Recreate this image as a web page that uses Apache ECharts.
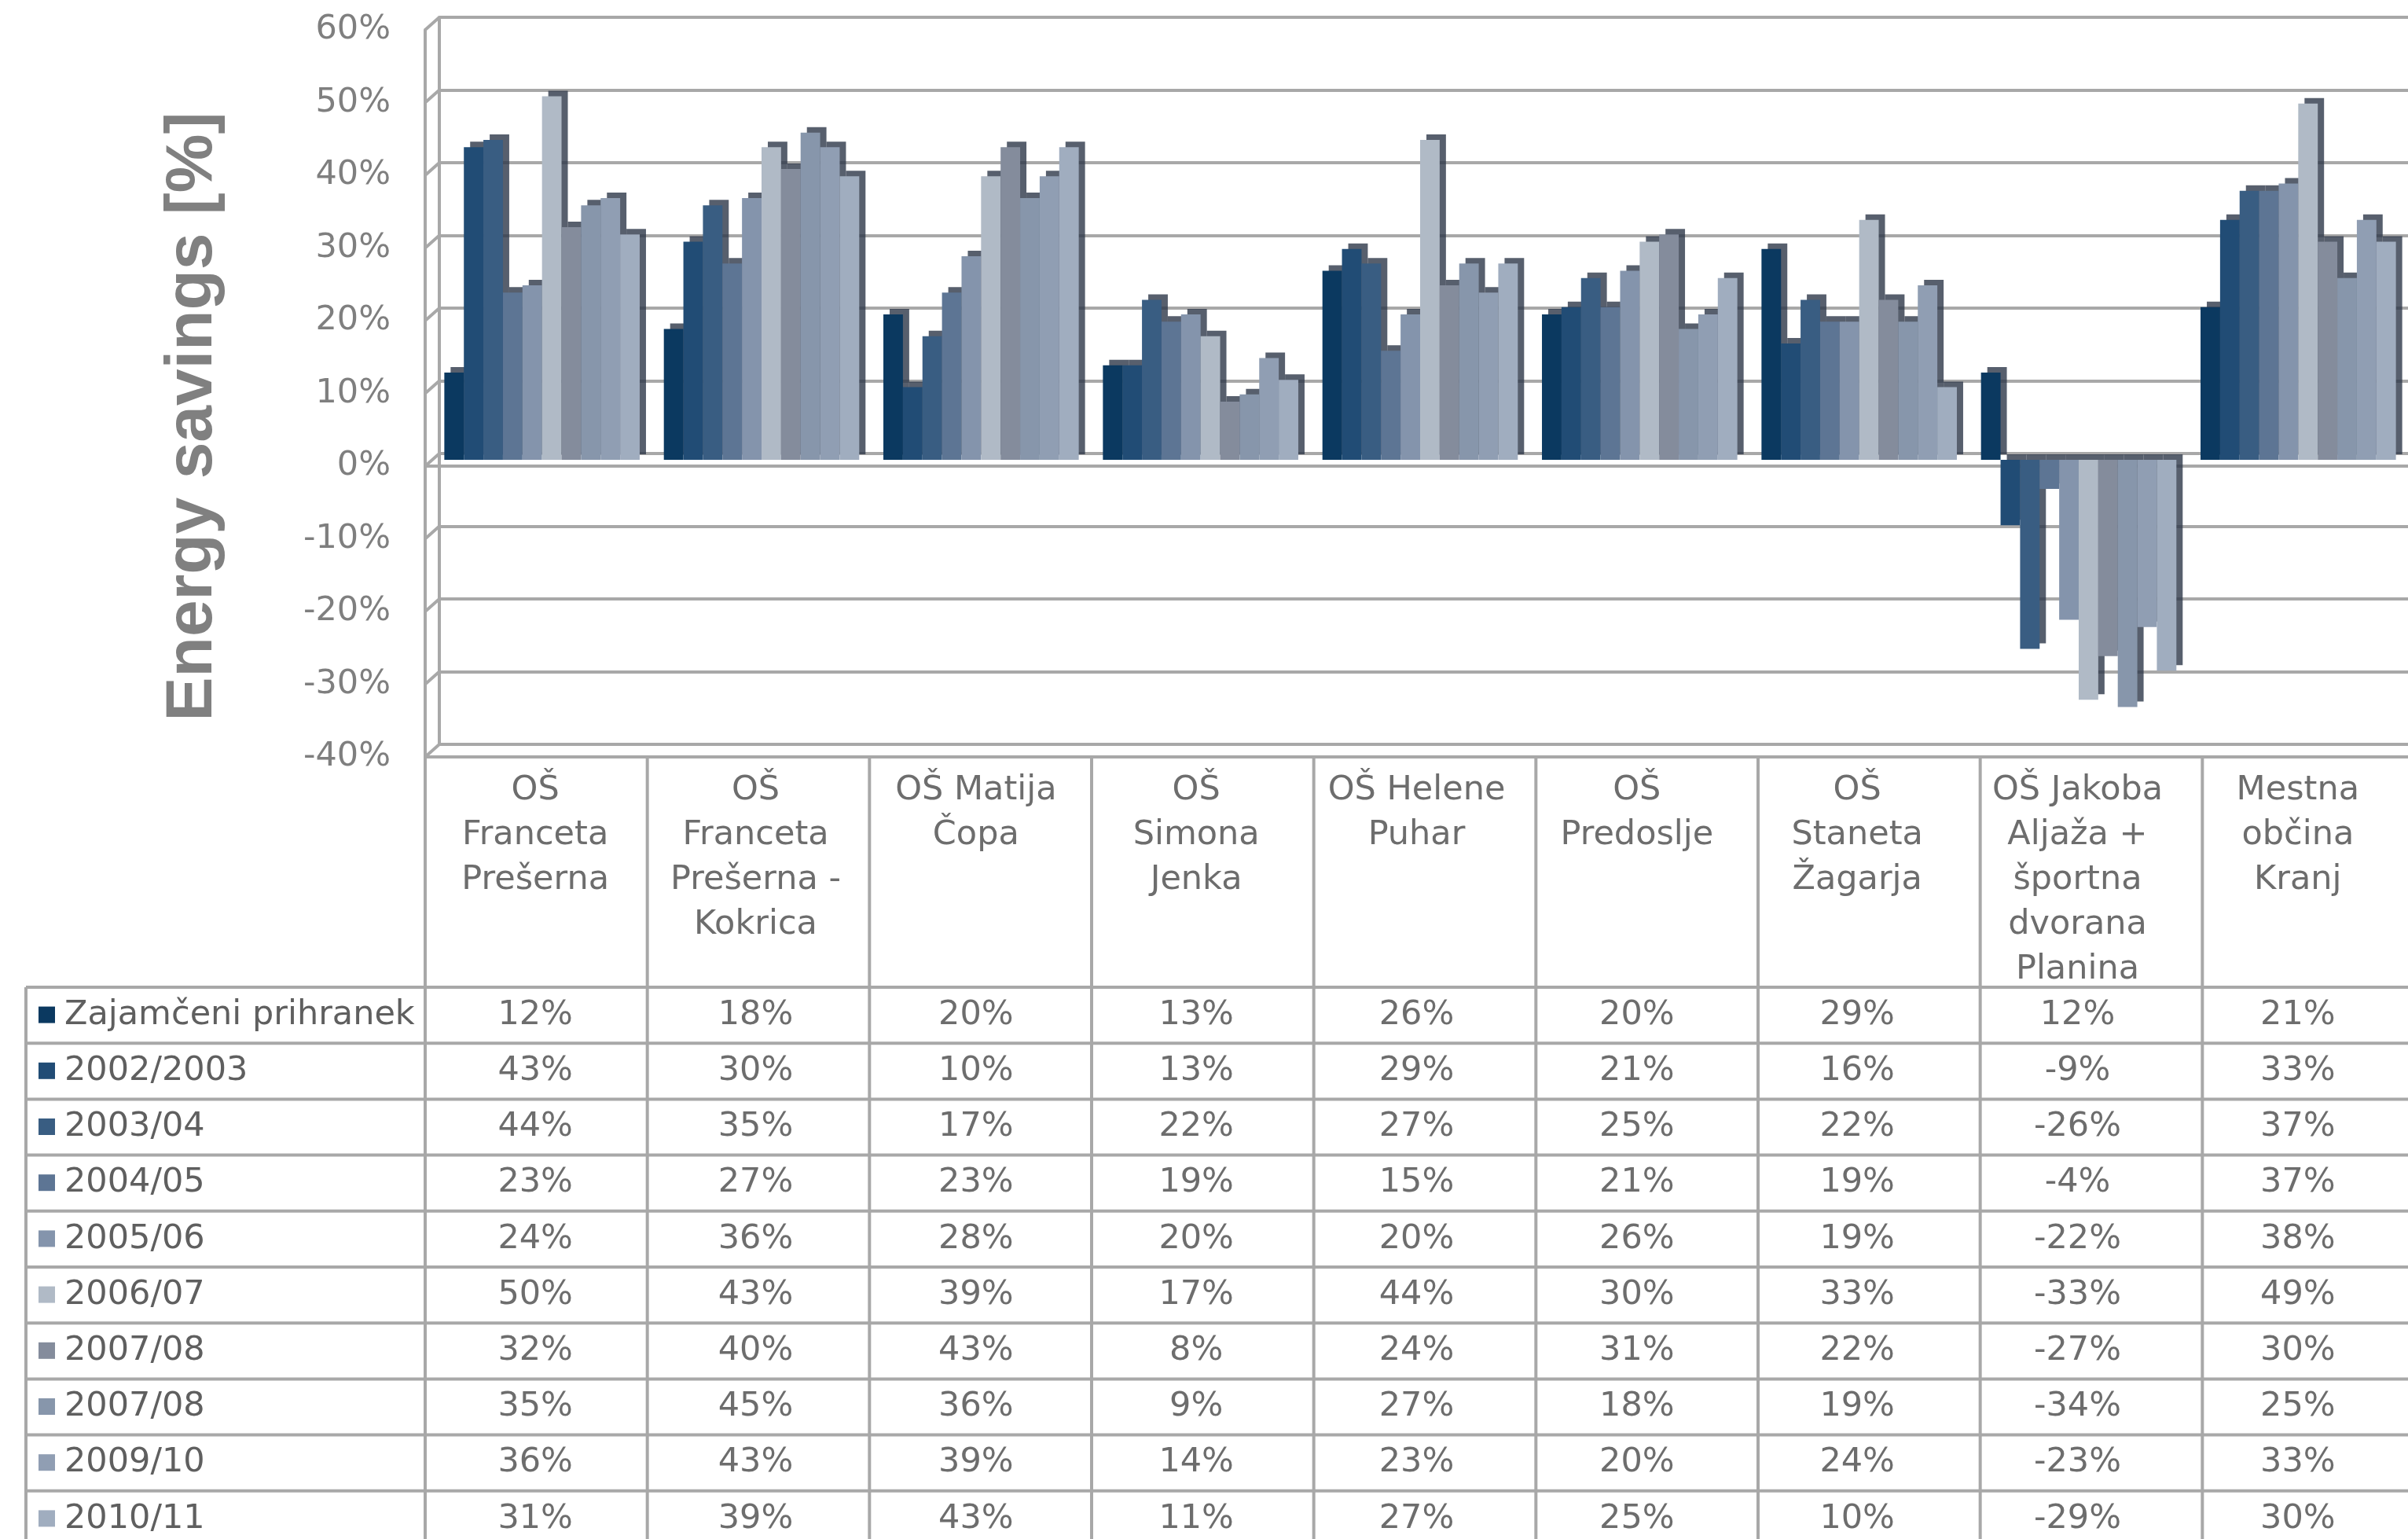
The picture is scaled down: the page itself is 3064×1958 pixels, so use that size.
<!DOCTYPE html>
<html>
<head>
<meta charset="utf-8">
<title>Energy savings</title>
<script src="https://cdn.jsdelivr.net/npm/echarts@6/dist/echarts.min.js"></script>
<style>
html,body{margin:0;padding:0;background:#fff;}
#main{width:3064px;height:1958px;}
</style>
</head>
<body>
<div id="main"></div>
<script>
var categories = ['OŠ\nFranceta\nPrešerna', 'OŠ\nFranceta\nPrešerna -\nKokrica', 'OŠ Matija\nČopa', 'OŠ\nSimona\nJenka',
    'OŠ Helene\nPuhar', 'OŠ\nPredoslje', 'OŠ\nStaneta\nŽagarja', 'OŠ Jakoba\nAljaža +\nšportna\ndvorana\nPlanina', 'Mestna\nobčina\nKranj'];
var seriesNames = ['Zajamčeni prihranek', '2002/2003', '2003/04', '2004/05', '2005/06', '2006/07', '2007/08', '2007/08', '2009/10', '2010/11'];

var zajamceni = [12, 18, 20, 13, 26, 20, 29, 12, 21];
var y2002 = [43, 30, 10, 13, 29, 21, 16, -9, 33];
var y2003 = [44, 35, 17, 22, 27, 25, 22, -26, 37];
var y2004 = [23, 27, 23, 19, 15, 21, 19, -4, 37];
var y2005 = [24, 36, 28, 20, 20, 26, 19, -22, 38];
var y2006 = [50, 43, 39, 17, 44, 30, 33, -33, 49];
var y2007 = [32, 40, 43, 8, 24, 31, 22, -27, 30];
var y2007b = [35, 45, 36, 9, 27, 18, 19, -34, 25];
var y2009 = [36, 43, 39, 14, 23, 20, 24, -23, 33];
var y2010 = [31, 39, 43, 11, 27, 25, 10, -29, 30];
var allData = [zajamceni, y2002, y2003, y2004, y2005, y2006, y2007, y2007b, y2009, y2010];

var yMin = -40, yMax = 60, yStep = 10;

var colors = ['#0b3960', '#214c75', '#395d82', '#5d7594', '#8494ac', '#b0bac6', '#848c9c', '#8796ab', '#909eb3', '#a0adbf'];

var FONT = '"DejaVu Sans", sans-serif';
var TITLE_FONT = '"Liberation Sans", Arial, sans-serif';
var LINE = '#a8a8a8';
// front plane, back wall and the bars sit in between (fake 3D depth)
var gridLeft = 541, gridTop = 38, gridWidth = 2544, gridHeight = 925;
var depthX = 18, depthY = 16;
var headerBottom = 1256, rowH = 71.2, tableLeft = 33;

var myChart = echarts.init(document.getElementById('main'));

var series = [];
for (var i = 0; i < allData.length; i++) {
    series.push({
        name: seriesNames[i],
        type: 'bar',
        xAxisIndex: 2,
        yAxisIndex: 2,
        data: allData[i],
        barGap: '0%',
        barCategoryGap: '11%',
        itemStyle: {
            color: colors[i],
            shadowColor: 'rgba(45,55,72,0.8)',
            shadowOffsetX: 8,
            shadowOffsetY: -7,
            shadowBlur: 0
        }
    });
}

// front plane only shows the floor edge (-40%) and the zero edge
var frontLines = [];
for (var v = yMin; v <= yMax; v += yStep) {
    frontLines.push(v === yMin || v === 0 ? LINE : 'rgba(0,0,0,0)');
}

var option = {
    animation: false,
    backgroundColor: '#fff',
    grid: [
        {left: gridLeft, top: gridTop, width: gridWidth, height: gridHeight},
        {left: gridLeft + depthX, top: gridTop - depthY, width: gridWidth, height: gridHeight},
        {left: gridLeft + depthX / 2, top: gridTop - depthY / 2, width: gridWidth, height: gridHeight}
    ],
    xAxis: [
        {
            type: 'category',
            gridIndex: 0,
            data: categories,
            axisLine: {show: false, onZero: false},
            axisTick: {show: false},
            axisLabel: {
                interval: 0,
                margin: 14,
                verticalAlign: 'top',
                lineHeight: 57,
                fontSize: 43,
                color: '#6d6d6d',
                fontFamily: FONT
            }
        },
        {type: 'category', gridIndex: 1, data: categories, show: false},
        {type: 'category', gridIndex: 2, data: categories, show: false}
    ],
    yAxis: [
        {
            type: 'value',
            gridIndex: 0,
            min: yMin, max: yMax, interval: yStep,
            axisLine: {show: true, onZero: false, lineStyle: {color: LINE, width: 4}},
            axisTick: {show: false},
            splitLine: {lineStyle: {color: frontLines, width: 4}},
            axisLabel: {
                formatter: '{value}%',
                margin: 44,
                fontSize: 43,
                color: '#7f7f7f',
                fontFamily: FONT
            }
        },
        {
            type: 'value',
            gridIndex: 1,
            min: yMin, max: yMax, interval: yStep,
            axisLine: {show: true, onZero: false, lineStyle: {color: LINE, width: 4}},
            axisTick: {show: false},
            axisLabel: {show: false},
            splitLine: {lineStyle: {color: LINE, width: 4}}
        },
        {
            type: 'value',
            gridIndex: 2,
            min: yMin, max: yMax, interval: yStep,
            show: false,
            splitLine: {show: false}
        }
    ],
    series: series
};
myChart.setOption(option);

var els = [];
var lineStyle = {stroke: LINE, lineWidth: 4};

// short slanted lines on the left wall joining front and back planes
for (var t = yMin; t <= yMax; t += yStep) {
    var fy = myChart.convertToPixel({yAxisIndex: 0}, t);
    els.push({type: 'line', shape: {x1: gridLeft, y1: fy, x2: gridLeft + depthX, y2: fy - depthY}, style: lineStyle});
}

// data table under the chart, built from the same arrays
var colW = gridWidth / categories.length;
for (var r = 0; r <= seriesNames.length; r++) {
    var ly = headerBottom + r * rowH;
    els.push({type: 'line', shape: {x1: tableLeft, y1: ly, x2: gridLeft + gridWidth, y2: ly}, style: lineStyle});
}
for (var c = 0; c <= categories.length; c++) {
    var lx = gridLeft + c * colW;
    els.push({type: 'line', shape: {x1: lx, y1: gridTop + gridHeight, x2: lx, y2: 1958}, style: lineStyle});
}
els.push({type: 'line', shape: {x1: tableLeft, y1: headerBottom, x2: tableLeft, y2: 1958}, style: lineStyle});

for (var s = 0; s < seriesNames.length; s++) {
    var my = headerBottom + (s + 0.5) * rowH;
    els.push({type: 'rect', shape: {x: 49, y: my - 11, width: 21, height: 21}, style: {fill: colors[s]}});
    els.push({type: 'text', x: 82, y: my, style: {text: seriesNames[s], font: '43px ' + FONT, fill: '#5f5f5f', verticalAlign: 'middle', align: 'left'}});
    for (var k = 0; k < categories.length; k++) {
        var px = myChart.convertToPixel({xAxisIndex: 0}, k);
        els.push({type: 'text', x: px, y: my, style: {text: allData[s][k] + '%', font: '43px ' + FONT, fill: '#6d6d6d', verticalAlign: 'middle', align: 'center'}});
    }
}

els.push({
    type: 'text', x: 246, y: 530, rotation: Math.PI / 2,
    style: {text: 'Energy savings [%]', font: 'bold 84px ' + TITLE_FONT, fill: '#808080', align: 'center', verticalAlign: 'middle'}
});

myChart.setOption({graphic: els});
</script>
</body>
</html>
